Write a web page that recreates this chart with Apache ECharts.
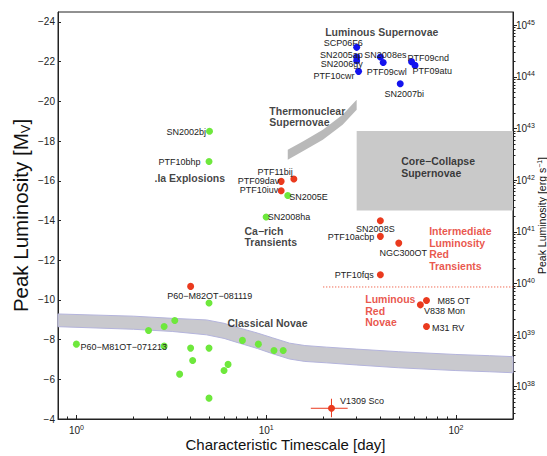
<!DOCTYPE html>
<html><head><meta charset="utf-8">
<script src="https://cdn.jsdelivr.net/npm/echarts@6/dist/echarts.min.js"></script>
<style>html,body{margin:0;padding:0;background:#fff}#c{width:547px;height:456px}</style>
</head><body><div id="c"></div>
<script>
// ---------------- data ----------------
const luminousNames = ['SCP06F6','SN2005ap','SN2006gy','PTF10cwr','SN2008es','PTF09cwl','PTF09cnd','PTF09atu','SN2007bi'];
const luminousTime  = [30.0, 30.0, 30.0, 30.7, 40.0, 41.4, 58.4, 60.9, 50.9];
const luminousMag   = [-22.72, -22.23, -22.05, -21.51, -22.23, -21.96, -22.00, -21.81, -20.89];

const greenNames = ['SN2002bj','PTF10bhp','SN2005E','SN2008ha','P60\u2212M81OT\u2212071213',
  '','','','','','','','','','','','','','','',''];
const greenTime  = [5.03, 5.0, 13.0, 10.0, 1.0,
  5.0, 2.4, 2.9, 3.3, 2.9, 4.0, 5.0, 4.1, 3.5, 6.0, 6.3, 5.0, 7.5, 9.1, 11.0, 12.3];
const greenMag   = [-18.49, -16.97, -15.26, -14.17, -7.77,
  -9.84, -8.46, -8.66, -8.96, -7.67, -7.57, -7.57, -6.95, -6.26, -6.44, -6.75, -5.05, -7.96, -7.77, -7.45, -7.45];

const redNames = ['PTF11bij','PTF09dav','PTF10iuv','SN2008S','PTF10acbp','NGC300OT','PTF10fqs',
  'M85 OT','V838 Mon','M31 RV','P60\u2212M82OT\u2212081119','V1309 Sco'];
const redTime  = [14.0, 12.0, 12.0, 40.0, 40.0, 50.0, 40.0, 70.0, 65.0, 70.0, 4.0, 22.1];
const redMag   = [-16.09, -15.97, -15.50, -13.99, -13.20, -12.86, -11.27, -9.97, -9.75, -8.66, -10.68, -4.54];

// V1309 Sco error bars
const errTime = [22.1], errTimeLow = [17.2], errTimeHigh = [26.9];
const errMag = [-4.54], errMagLow = [-5.02], errMagHigh = [-4.09];

// region shapes
const novaeBandTime   = [0.8, 2.0, 3.2, 4.85, 6.0, 7.24, 9.0, 10.8, 13.3, 16.0, 20.8, 30, 50, 100, 150, 200];
const novaeBandTop    = [-9.29, -9.18, -9.07, -8.99, -8.82, -8.58, -8.33, -8.09, -7.82, -7.70, -7.62, -7.52, -7.39, -7.25, -7.19, -7.14];
const novaeBandBottom = [-8.65, -8.52, -8.41, -8.24, -8.06, -7.82, -7.55, -7.29, -7.02, -6.90, -6.83, -6.72, -6.58, -6.44, -6.38, -6.33];

const thermoTime   = [13.0, 15.6, 19.9, 25.3, 30.0];
const thermoTop    = [-17.56, -17.98, -18.57, -19.32, -20.08];
const thermoBottom = [-17.06, -17.48, -18.07, -18.82, -19.58];

const ccTime = [30, 200];
const ccMag  = [-18.5, -14.5];

const iltTime = [20, 200];
const iltMag  = [-10.65, -10.65];

// annotation texts
const annoText = ['Luminous Supernovae', 'Thermonuclear\nSupernovae', 'Core\u2212Collapse\nSupernovae',
  '.Ia Explosions', 'Ca\u2212rich\nTransients', 'Classical Novae'];
const annoTime = [40.7, 10.4, 51.5, 2.58, 7.69, 6.26];
const annoMag  = [-23.51, -19.23, -16.69, -16.14, -13.18, -8.83];
const redAnnoText = ['Intermediate\nLuminosity\nRed\nTransients', 'Luminous\nRed\nNovae'];
const redAnnoTime = [72.3, 33.3];
const redAnnoMag  = [-12.6, -9.45];

// axes
const xMin = 0.8, xMax = 200;
const xLabelValues = [1, 10, 100];
const xMinorTicks = [0.9, 2, 3, 4, 5, 6, 7, 8, 9, 20, 30, 40, 50, 60, 70, 80, 90, 200];
const yMin = -24.5, yMax = -4;
const yLabelValues = [-24, -22, -20, -18, -16, -14, -12, -10, -8, -6, -4];
const lumMin = Math.pow(10, 37.375), lumMax = Math.pow(10, 45.256);
const lumLabelValues = [1e38, 1e39, 1e40, 1e41, 1e42, 1e43, 1e44, 1e45];
const lumMinorTicks = [];
for (let e = 37; e <= 45; e++) for (let k = 2; k <= 9; k++) {
  const v = k * Math.pow(10, e);
  if (v > lumMin && v < lumMax) lumMinorTicks.push(v);
}

// ---------------- styles ----------------
const FONT = '"Liberation Sans", Arial, Helvetica, sans-serif';
const TXT = '#222';
const BLUE = '#1414ee', GREEN = '#6ee83c', RED = '#ea3a1e', RED_TXT = '#e42c1a';
const SYM = 7, R = SYM / 2;
// [align, dx, dy] of label anchor relative to point centre (pixels)
const labelPlacement = {
  'SCP06F6': ['right', 6, -4], 'SN2005ap': ['right', 6, -2.5], 'SN2006gy': ['right', 6, 3.5],
  'PTF10cwr': ['right', -4, 4.5], 'SN2008es': ['center', 5, -2.5], 'PTF09cwl': ['center', 3.5, 10],
  'PTF09cnd': ['left', -4, -3.5], 'PTF09atu': ['left', -2.5, 6], 'SN2007bi': ['center', 4, 10.5],
  'PTF11bij': ['right', -1, -6.5], 'PTF09dav': ['right', -2, 0], 'PTF10iuv': ['right', -3, -0.5],
  'SN2005E': ['left', 1.5, 1.5], 'SN2008ha': ['left', 1.5, 0], 'SN2002bj': ['right', -3.5, 1],
  'PTF10bhp': ['right', -8.5, 0.5], 'SN2008S': ['center', -5, 8], 'PTF10acbp': ['right', -6, 1],
  'NGC300OT': ['center', 4.5, 10], 'PTF10fqs': ['right', -6.5, 0], 'M85 OT': ['left', 11, 0.5],
  'V838 Mon': ['left', 3.5, 6.5], 'M31 RV': ['left', 5.5, 1.5],
  'P60\u2212M82OT\u2212081119': ['left', -23.5, 10], 'P60\u2212M81OT\u2212071213': ['left', 4, 3],
  'V1309 Sco': ['left', 8.5, -7]
};

function pointData(names, times, mags) {
  return names.map((n, i) => {
    const item = { name: n, value: [times[i], mags[i]] };
    const p = labelPlacement[n];
    if (p) {
      item.label = { show: true, formatter: n, align: p[0], verticalAlign: 'middle',
        position: [R + p[1], R + p[2]] };
    }
    return item;
  });
}
function scatter(names, times, mags, color) {
  return {
    type: 'scatter', symbolSize: SYM, z: 5,
    itemStyle: { color: color, opacity: 1 },
    label: { show: false, fontSize: 9, lineHeight: 9, color: TXT, fontFamily: FONT },
    data: pointData(names, times, mags)
  };
}
function annotations(texts, times, mags, aligns, color) {
  return {
    type: 'scatter', symbolSize: 1, z: 6, silent: true,
    itemStyle: { color: 'rgba(0,0,0,0)' },
    data: texts.map((t, i) => ({
      value: [times[i], mags[i]],
      label: { show: true, formatter: t, align: aligns[i], verticalAlign: 'middle', position: [0.5, 0.5],
        fontSize: 10.5, fontWeight: 'bold', color: color, fontFamily: FONT, lineHeight: 11.5 }
    }))
  };
}
function band(times, top, bottom, fill, stroke) {
  return {
    type: 'custom', silent: true, z: 1,
    renderItem: (params, api) => {
      const pts = [];
      for (let i = 0; i < times.length; i++) pts.push(api.coord([times[i], top[i]]));
      for (let i = times.length - 1; i >= 0; i--) pts.push(api.coord([times[i], bottom[i]]));
      return { type: 'polygon', shape: { points: pts }, style: { fill: fill, stroke: stroke, lineWidth: stroke ? 1 : 0 } };
    },
    data: [[times[0], top[0]]]
  };
}
const supRich = {
  b: { fontSize: 10, color: TXT, fontFamily: FONT },
  s: { fontSize: 7, color: TXT, fontFamily: FONT, verticalAlign: 'bottom', padding: [0, 0, 6, 0] }
};
const powLabel = v => '{b|10}{s|' + Math.round(Math.log10(v)) + '}';

const option = {
  animation: false,
  backgroundColor: '#fff',
  grid: { left: 58, top: 12, width: 455, height: 407, outerBoundsMode: 'none', containLabel: false,
    show: true, borderColor: '#222', borderWidth: 1, backgroundColor: 'transparent' },
  xAxis: [{
    type: 'log', logBase: 10, min: xMin, max: xMax, position: 'bottom',
    axisLine: { show: true, lineStyle: { color: '#222', width: 1 } },
    axisTick: { show: true, inside: true, length: 4, customValues: xLabelValues, lineStyle: { color: '#222' } },
    axisLabel: { show: true, customValues: xLabelValues, formatter: powLabel, rich: supRich, margin: 5 },
    splitLine: { show: false }, minorTick: { show: false },
    name: 'Characteristic Timescale [day]', nameLocation: 'middle', nameGap: 18, nameMoveOverlap: false,
    nameTextStyle: { fontSize: 15, color: '#111', fontFamily: FONT }
  }, {
    type: 'log', logBase: 10, min: xMin, max: xMax, position: 'bottom',
    axisLine: { show: false },
    axisTick: { show: true, inside: true, length: 2.5, customValues: xMinorTicks, lineStyle: { color: '#222' } },
    axisLabel: { show: false }, splitLine: { show: false }
  }],
  yAxis: [{
    type: 'value', inverse: true, min: yMin, max: yMax, position: 'left',
    axisLine: { show: true, lineStyle: { color: '#222', width: 1 } },
    axisTick: { show: true, inside: true, length: 3, customValues: yLabelValues, lineStyle: { color: '#222' } },
    axisLabel: { show: true, customValues: yLabelValues, formatter: v => String(v).replace('-', '\u2212'),
      fontSize: 10, color: TXT, fontFamily: FONT, margin: 3 },
    splitLine: { show: false },
    name: 'Peak Luminosity [M{v|V}]', nameLocation: 'middle', nameGap: 26, nameRotate: 90, nameMoveOverlap: false,
    nameTextStyle: { fontSize: 20.5, color: '#111', fontFamily: FONT,
      rich: { v: { fontSize: 13, color: '#111', fontFamily: FONT, verticalAlign: 'top', padding: [11, 0, 0, 0] } } }
  }, {
    type: 'log', logBase: 10, min: lumMin, max: lumMax, position: 'right',
    axisLine: { show: true, lineStyle: { color: '#222', width: 1 } },
    axisTick: { show: true, inside: false, length: 4, customValues: lumLabelValues, lineStyle: { color: '#222' } },
    axisLabel: { show: true, customValues: lumLabelValues, formatter: powLabel, rich: supRich, margin: 3 },
    splitLine: { show: false },
    name: 'Peak Luminosity [erg s{s|\u22121}]', nameLocation: 'middle', nameGap: 23, nameRotate: 90, nameMoveOverlap: false,
    nameTextStyle: { fontSize: 10.5, color: '#111', fontFamily: FONT,
      rich: { s: { fontSize: 7, color: '#111', fontFamily: FONT, verticalAlign: 'bottom', padding: [0, 0, 5, 0] } } }
  }, {
    type: 'log', logBase: 10, min: lumMin, max: lumMax, position: 'right',
    axisLine: { show: false },
    axisTick: { show: true, inside: false, length: 2.5, customValues: lumMinorTicks, lineStyle: { color: '#222' } },
    axisLabel: { show: false }, splitLine: { show: false }
  }],
  series: [
    band(novaeBandTime, novaeBandTop, novaeBandBottom, '#c9c9ce', '#b4b4dc'),
    band(thermoTime, thermoTop, thermoBottom, '#b9b9b9', null),
    {
      type: 'custom', silent: true, z: 1,
      renderItem: (params, api) => {
        const a = api.coord([ccTime[0], ccMag[0]]), b = api.coord([ccTime[1], ccMag[1]]);
        return { type: 'rect', shape: { x: a[0], y: a[1], width: b[0] - a[0], height: b[1] - a[1] }, style: { fill: '#c9c9c9' } };
      },
      data: [[ccTime[0], ccMag[0]]]
    },
    {
      type: 'line', symbol: 'none', z: 2, silent: true,
      lineStyle: { color: RED, width: 1, type: [1, 2] },
      data: iltTime.map((t, i) => [t, iltMag[i]])
    },
    {
      type: 'custom', silent: true, z: 4,
      renderItem: (params, api) => {
        const i = params.dataIndex;
        const l = api.coord([errTimeLow[i], errMag[i]]), r = api.coord([errTimeHigh[i], errMag[i]]);
        const t = api.coord([errTime[i], errMagLow[i]]), b = api.coord([errTime[i], errMagHigh[i]]);
        return { type: 'group', children: [
          { type: 'line', shape: { x1: l[0], y1: l[1], x2: r[0], y2: r[1] }, style: { stroke: RED, lineWidth: 1 } },
          { type: 'line', shape: { x1: t[0], y1: t[1], x2: b[0], y2: b[1] }, style: { stroke: RED, lineWidth: 1 } }
        ] };
      },
      data: errTime.map((t, i) => [t, errMag[i]])
    },
    scatter(greenNames, greenTime, greenMag, GREEN),
    scatter(redNames, redTime, redMag, RED),
    scatter(luminousNames, luminousTime, luminousMag, BLUE),
    annotations(annoText, annoTime, annoMag, ['center', 'left', 'left', 'left', 'left', 'left'], '#111'),
    annotations(redAnnoText, redAnnoTime, redAnnoMag, ['left', 'left'], RED_TXT)
  ]
};
const chart = echarts.init(document.getElementById('c'), null, { renderer: 'svg' });
chart.setOption(option);
</script>
</body></html>
